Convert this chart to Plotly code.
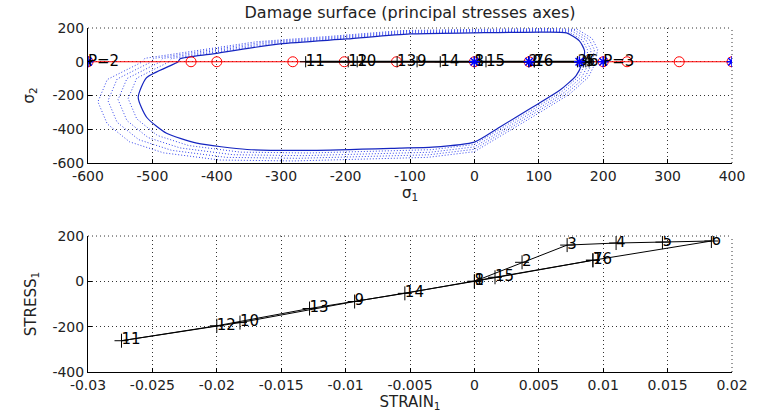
import plotly.graph_objects as go
from plotly.subplots import make_subplots

# ---- Top plot data (principal stresses) ----
surf_s1 = [-460, -457, -406, -302, -198, -100, -3, 105, 143, 163, 171, 167, 158, 132, 90, 39, 0,
           -65, -116, -251, -353, -431, -478, -509, -522, -509, -460]
surf_s2 = [0, 18, 47, 106, 135, 165, 171, 176, 171, 124, 65, -12, -82, -171, -270, -388, -476,
           -506, -512, -525, -520, -482, -424, -329, -212, -94, 0]
dotted_scales = [1.03, 1.06, 1.09, 1.12]

red_s1 = [-600, -440, -400, -282, -202, -121, 0, 85, 200, 237, 318, 400]
blue_s1 = [-600, 0, 85, 163, 200, 400]
p_s1 = [-600, 200, 400]
p_labels = ["P=2", "P=3", "P=1"]

# ---- Load path (steps) ----
step_labels = ["1", "2", "3", "4", "5", "6", "7", "8", "9", "10", "11", "12", "13", "14", "15", "16"]
strain = [0, 0.0037, 0.0072, 0.011, 0.0146, 0.0184, 0.0092, 0, -0.0093, -0.0182, -0.0274,
          -0.020, -0.0128, -0.0054, 0.0016, 0.0092]
stress = [0, 84, 160, 169, 173, 178, 93, 0, -89, -182, -262, -196, -120, -53, 18, 93]

top_x_ticks = [-600, -500, -400, -300, -200, -100, 0, 100, 200, 300, 400]
top_x_text = ["-600", "-500", "-400", "-300", "-200", "-100", "0", "100", "200", "300", "400"]
top_y_ticks = [-600, -400, -200, 0, 200]
top_y_text = ["-600", "-400", "-200", "0", "200"]
bot_x_ticks = [-0.03, -0.025, -0.02, -0.015, -0.01, -0.005, 0, 0.005, 0.01, 0.015, 0.02]
bot_x_text = ["-0.03", "-0.025", "-0.02", "-0.015", "-0.01", "-0.005", "0", "0.005", "0.01", "0.015", "0.02"]
bot_y_ticks = [-400, -200, 0, 200]
bot_y_text = ["-400", "-200", "0", "200"]

FONT = "DejaVu Sans"
TXT = "#222222"
GRID_DASH = "1px,3px"

fig = make_subplots(rows=2, cols=1, vertical_spacing=0.0)

# dotted damage surfaces
for s in dotted_scales:
    fig.add_trace(go.Scatter(x=[v * s for v in surf_s1], y=[v * s for v in surf_s2], mode="lines",
                             line=dict(color="#3344ee", width=1, dash="1px,2px"), showlegend=False,
                             hoverinfo="skip"), row=1, col=1)
# solid damage surface
fig.add_trace(go.Scatter(x=surf_s1, y=surf_s2, mode="lines", line_shape="spline",
                         line=dict(color="#1525c0", width=1.2, smoothing=0.6), showlegend=False), row=1, col=1)
# red line with circles
fig.add_trace(go.Scatter(x=red_s1, y=[0] * len(red_s1), mode="lines+markers",
                         line=dict(color="red", width=1),
                         marker=dict(symbol="circle-open", size=10, color="red", line=dict(width=1)),
                         showlegend=False), row=1, col=1)
# black stress path on sigma1 axis
fig.add_trace(go.Scatter(x=stress, y=[0] * len(stress), mode="lines+markers",
                         line=dict(color="black", width=2.2),
                         marker=dict(symbol="cross-thin-open", size=8, color="black", line=dict(width=1, color="black")),
                         showlegend=False), row=1, col=1)
fig.add_trace(go.Scatter(x=stress, y=[0] * len(stress), mode="text", text=step_labels,
                         textposition="middle right", textfont=dict(family=FONT, size=15, color="black"),
                         showlegend=False), row=1, col=1)
# blue asterisks
fig.add_trace(go.Scatter(x=blue_s1, y=[0] * len(blue_s1), mode="markers",
                         marker=dict(symbol="asterisk-open", size=9, color="#0000ff", line=dict(width=1.5, color="#0000ff")),
                         showlegend=False), row=1, col=1)
fig.add_trace(go.Scatter(x=p_s1, y=[0] * len(p_s1), mode="text", text=p_labels,
                         textposition="middle right", textfont=dict(family=FONT, size=15, color="black"),
                         showlegend=False), row=1, col=1)

# bottom: stress-strain path
fig.add_trace(go.Scatter(x=strain, y=stress, mode="lines+markers",
                         line=dict(color="black", width=1),
                         marker=dict(symbol="cross-thin-open", size=10, color="black", line=dict(width=1, color="black")),
                         showlegend=False), row=2, col=1)
fig.add_trace(go.Scatter(x=strain, y=stress, mode="text", text=step_labels,
                         textposition="middle right", textfont=dict(family=FONT, size=15, color="black"),
                         showlegend=False), row=2, col=1)

axis_common = dict(showline=True, linecolor="black", linewidth=1, mirror=False, ticks="inside",
                   ticklen=4, tickcolor="black", showgrid=True, gridcolor="#333333", griddash=GRID_DASH,
                   gridwidth=1, zeroline=False, tickfont=dict(family=FONT, size=14, color=TXT),
                   tickmode="array")

fig.update_xaxes(range=[-600, 400], tickvals=top_x_ticks, ticktext=top_x_text,
                 domain=[0, 1], title=dict(text="σ<sub>1</sub>", standoff=0,
                                           font=dict(family=FONT, size=15, color=TXT)),
                 **axis_common, row=1, col=1)
fig.update_yaxes(range=[-600, 200], tickvals=top_y_ticks, ticktext=top_y_text,
                 domain=[0.6076, 1.0], title=dict(text="σ<sub>2</sub>", standoff=14,
                                                  font=dict(family=FONT, size=15, color=TXT)),
                 **axis_common, row=1, col=1)
fig.update_xaxes(range=[-0.03, 0.02], tickvals=bot_x_ticks, ticktext=bot_x_text,
                 domain=[0, 1], title=dict(text="STRAIN<sub>1</sub>", standoff=0,
                                           font=dict(family=FONT, size=15, color=TXT)),
                 **axis_common, row=2, col=1)
fig.update_yaxes(range=[-400, 200], tickvals=bot_y_ticks, ticktext=bot_y_text,
                 domain=[0, 0.3953], title=dict(text="STRESS<sub>1</sub>", standoff=12,
                                                font=dict(family=FONT, size=15, color=TXT)),
                 **axis_common, row=2, col=1)

# grid lines at the far (top / right) edges, as in the reference
edge_line = dict(color="#333333", width=1, dash=GRID_DASH)
for xa, ya in (("x", "y"), ("x2", "y2")):
    fig.add_shape(type="line", xref=f"{xa} domain", yref=f"{ya} domain", x0=1, x1=1, y0=0, y1=1,
                  line=edge_line, layer="below")
    fig.add_shape(type="line", xref=f"{xa} domain", yref=f"{ya} domain", x0=0, x1=1, y0=1, y1=1,
                  line=edge_line, layer="below")

fig.update_layout(width=765, height=414, margin=dict(l=88, r=33, t=28, b=42),
                  paper_bgcolor="white", plot_bgcolor="white",
                  title=dict(text="Damage surface (principal stresses axes)", x=410 / 765, xanchor="center",
                             y=1 - 12 / 414, yanchor="middle", font=dict(family=FONT, size=16, color=TXT)),
                  font=dict(family=FONT))

fig.write_html("out.html")
